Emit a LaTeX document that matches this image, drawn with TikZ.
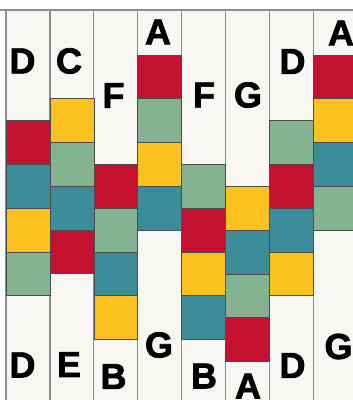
\documentclass[tikz,border=0pt]{standalone}
\usepackage{fontspec}
\setmainfont{Liberation Sans}
\newfontfamily\heavyfont{Liberation Sans}[BoldFont={Liberation Sans Bold}, BoldFeatures={FakeBold=2}]
\usetikzlibrary{positioning}
\definecolor{cream}{HTML}{F8F7F3}
\definecolor{seam}{HTML}{8E8E8E}
\definecolor{quiltred}{HTML}{C41230}
\definecolor{quiltteal}{HTML}{3C8D99}
\definecolor{quiltyellow}{HTML}{FCC21F}
\definecolor{quiltgreen}{HTML}{86B38F}
\begin{document}
\begin{tikzpicture}[x=1pt, y=-1pt,
	strip/.style={draw=seam, line width=1.2pt, fill=cream, anchor=north west, minimum width=43.9pt, minimum height=420pt, inner sep=0pt, outer sep=0pt},
	patch/.style={draw=black!70, line width=0.6pt, anchor=north west, minimum width=43.9pt, minimum height=43.75pt, inner sep=0pt, outer sep=0pt},
	redsq/.style={patch, fill=quiltred},
	tealsq/.style={patch, fill=quiltteal},
	yellowsq/.style={patch, fill=quiltyellow},
	greensq/.style={patch, fill=quiltgreen},
	letter/.style={inner sep=0pt, font=\fontsize{36}{36}\heavyfont\bfseries}]
	\useasboundingbox (0,0) rectangle (353,400);
	\fill[white] (0,0) rectangle (353,400);
	\clip (0,0) rectangle (353,400);
	% strips
	\draw[seam, line width=1.2pt] (0,10) -- (353,10);
	\node[strip] (s1) at (6,10) {};
	\node[strip] (s2) at (49.9,10) {};
	\node[strip] (s3) at (93.8,10) {};
	\node[strip] (s4) at (137.7,10) {};
	\node[strip] (s5) at (181.6,10) {};
	\node[strip] (s6) at (225.5,10) {};
	\node[strip] (s7) at (269.4,10) {};
	\node[strip] (s8) at (313.3,10) {};
	% column 1
	\node[redsq] (a1) at (6,120.6) {};
	\node[tealsq, below=0pt of a1] (a2) {};
	\node[yellowsq, below=0pt of a2] (a3) {};
	\node[greensq, below=0pt of a3] (a4) {};
	% column 2
	\node[yellowsq] (b1) at (49.9,98.7) {};
	\node[greensq, below=0pt of b1] (b2) {};
	\node[tealsq, below=0pt of b2] (b3) {};
	\node[redsq, below=0pt of b3] (b4) {};
	% column 3
	\node[redsq] (c1) at (93.8,164.4) {};
	\node[greensq, below=0pt of c1] (c2) {};
	\node[tealsq, below=0pt of c2] (c3) {};
	\node[yellowsq, below=0pt of c3] (c4) {};
	% column 4
	\node[redsq] (d1) at (137.7,55) {};
	\node[greensq, below=0pt of d1] (d2) {};
	\node[yellowsq, below=0pt of d2] (d3) {};
	\node[tealsq, below=0pt of d3] (d4) {};
	% column 5
	\node[greensq] (e1) at (181.6,164.4) {};
	\node[redsq, below=0pt of e1] (e2) {};
	\node[yellowsq, below=0pt of e2] (e3) {};
	\node[tealsq, below=0pt of e3] (e4) {};
	% column 6
	\node[yellowsq] (f1) at (225.5,186.3) {};
	\node[tealsq, below=0pt of f1] (f2) {};
	\node[greensq, below=0pt of f2] (f3) {};
	\node[redsq, below=0pt of f3] (f4) {};
	% column 7
	\node[greensq] (g1) at (269.4,120.6) {};
	\node[redsq, below=0pt of g1] (g2) {};
	\node[tealsq, below=0pt of g2] (g3) {};
	\node[yellowsq, below=0pt of g3] (g4) {};
	% column 8
	\node[redsq] (h1) at (313.3,55) {};
	\node[yellowsq, below=0pt of h1] (h2) {};
	\node[tealsq, below=0pt of h2] (h3) {};
	\node[greensq, below=0pt of h3] (h4) {};
	% top letters
	\node[letter] (ta) at (22.5,61) {D};
	\node[letter] (tb) at (69,61) {C};
	\node[letter] (tc) at (113.5,95.5) {F};
	\node[letter] (td) at (158,32) {A};
	\node[letter] (te) at (204,95) {F};
	\node[letter] (tf) at (248,95) {G};
	\node[letter] (tg) at (292.5,61.5) {D};
	\node[letter] (th) at (341,33) {A};
	% bottom letters
	\node[letter] (ba) at (22.5,365) {D};
	\node[letter] (bb) at (69,364.5) {E};
	\node[letter] (bc) at (113.5,376.5) {B};
	\node[letter] (bd) at (159,345) {G};
	\node[letter] (be) at (204,376) {B};
	\node[letter] (bf) at (248,386) {A};
	\node[letter] (bg) at (292.5,365.5) {D};
	\node[letter] (bh) at (338.5,346.5) {G};
\end{tikzpicture}
\end{document}
